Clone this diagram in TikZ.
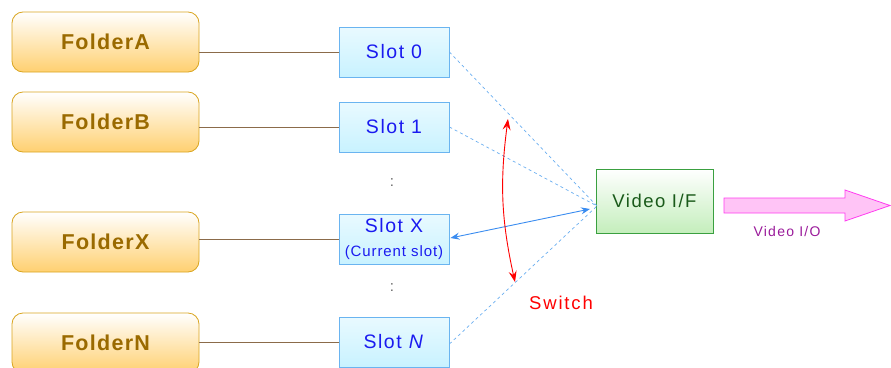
\documentclass[tikz,border=0pt]{standalone}
\usepackage{fontspec}
\setmainfont{Liberation Sans}
\usetikzlibrary{arrows.meta,calc}
\definecolor{foldtext}{HTML}{9A6A00}
\definecolor{folddraw}{HTML}{D9A520}
\definecolor{foldfill}{HTML}{FFD070}
\definecolor{slotdraw}{HTML}{6AB4F0}
\definecolor{slotfill}{HTML}{C8F2FF}
\definecolor{slottext}{HTML}{1A1AF0}
\definecolor{vifdraw}{HTML}{3AA040}
\definecolor{viffill}{HTML}{C4EEBC}
\definecolor{viftext}{HTML}{1A5A1A}
\definecolor{linkbrown}{HTML}{8B6B4A}
\definecolor{dashblue}{HTML}{6AAEF0}
\definecolor{arrowblue}{HTML}{3A8CF0}
\definecolor{pinkfill}{HTML}{FFC4F6}
\definecolor{pinkdraw}{HTML}{FF3CF0}
\definecolor{iotext}{HTML}{9A1A9A}
\newcommand{\spaced}[2]{\fontsize{#1}{#1}\selectfont\addfontfeatures{LetterSpace=#2}}
\tikzset{
  folder/.style={draw=folddraw, line width=0.8pt, rounded corners=11pt,
    top color=white, bottom color=foldfill,
    minimum width=187pt, minimum height=60pt, inner sep=0pt,
    text=foldtext, font=\bfseries\spaced{21.5}{6}},
  slotbox/.style={draw=slotdraw, line width=0.8pt,
    top color=slotfill!40, bottom color=slotfill,
    minimum width=110pt, minimum height=50pt, inner sep=0pt,
    text=slottext, font=\spaced{19.5}{8}},
  vifbox/.style={draw=vifdraw, line width=0.8pt,
    top color=white, bottom color=viffill,
    minimum width=117pt, minimum height=64pt, inner sep=0pt,
    text=viftext, font=\spaced{18.5}{8}},
  link/.style={draw=linkbrown, line width=0.8pt},
  feed/.style={draw=dashblue, dashed, dash pattern=on 3pt off 3pt, line width=0.7pt},
  dots/.style={text=black!60, font=\fontsize{15}{15}\selectfont}
}
\begin{document}
\begin{tikzpicture}[x=1pt,y=-1pt]
\useasboundingbox (0,0) rectangle (891,367);

% folders
\node[folder] (fA) at (105.5,42) {FolderA};
\node[folder] (fB) at (105.5,122) {FolderB};
\node[folder] (fX) at (105.5,242) {FolderX};
\node[folder] (fN) at (105.5,343) {FolderN};

% slots
\node[slotbox] (s0) at (394,52) {Slot 0};
\node[slotbox] (s1) at (394,127) {Slot 1};
\node[slotbox, align=center] (sX) at (394,239)
  {Slot X\\[4pt]{\spaced{15}{6}(Current slot)}};
\node[slotbox] (sN) at (394,342) {Slot \textit{N}};

\node[dots] (d1) at (392,183) {:};
\node[dots] (d2) at (392,288) {:};

% folder to slot links
\draw[link] (fA.east |- s0) -- (s0.west);
\draw[link] (fB.east |- s1) -- (s1.west);
\draw[link] (fX.east |- sX) -- (sX.west);
\draw[link] (fN.east |- sN) -- (sN.west);

% video interface
\node[vifbox] (vif) at (654.5,201) {Video I/F};
\coordinate (conv) at (597,206);
\coordinate (selend) at (590,209);

\draw[feed] (s0.east) -- (conv);
\draw[feed] (s1.east) -- (conv);
\draw[feed] ($(sN.east)+(0,2)$) -- (conv);

\draw[arrowblue, line width=0.9pt, {Stealth[length=9pt,width=7pt,inset=3pt]}-{Stealth[length=9pt,width=7pt,inset=3pt]}]
  ($(sX.east)+(1,-1)$) -- (selend);

% switch
\coordinate (swtop) at (508,119);
\coordinate (swbot) at (515,282);
\draw[red, line width=0.9pt, {Stealth[length=11pt,width=8pt,inset=4pt]}-{Stealth[length=11pt,width=8pt,inset=4pt]}]
  (swtop) to[bend right=10] (swbot);
\node[text=red, font=\spaced{18.5}{10}] (sw) at (561,303) {Switch};

% output arrow
\path[draw=pinkdraw, line width=0.8pt, fill=pinkfill]
  (724,198) -- (845,198) -- (845,190) -- (890,205.5) -- (845,221) -- (845,213) -- (724,213) -- cycle;
\node[text=iotext, font=\spaced{14}{9}] (io) at (787,231) {Video I/O};
\end{tikzpicture}
\end{document}
